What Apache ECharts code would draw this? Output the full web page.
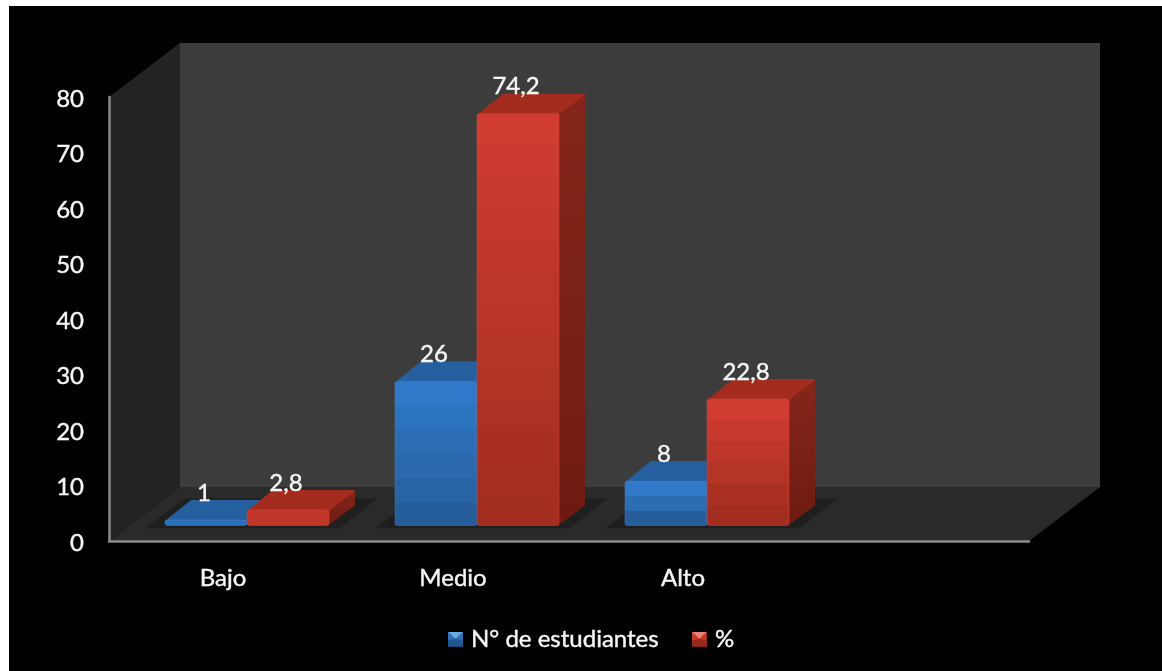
<!DOCTYPE html>
<html><head><meta charset="utf-8">
<script src="https://cdn.jsdelivr.net/npm/echarts@6/dist/echarts.min.js"></script>
<style>html,body{margin:0;padding:0;background:#fff;overflow:hidden}
#c{position:absolute;left:9px;top:6px;width:1153px;height:665px;background:#000;filter:blur(0.5px)}</style>
</head><body><div id="c"></div>
<script>
const categories = ['Bajo', 'Medio', 'Alto', ''];
const estudiantes = [1, 26, 8, null];
const porcentaje = [2.8, 74.2, 22.8, null];
const yTicks = { min: 0, max: 80, interval: 10 };
const seriesNames = ['N° de estudiantes', '%'];

const FONT = 'Lato';
const TEXT = '#f6f6f6';
const wallDepth = { x: 71, y: 54 };
const barDepth = { x: 26, y: 20 };
const floorShift = { x: 22.5, y: 15.5 };
const barWidthRatio = 82 / 230;

const blue = { top: [47,121,200], bottom: [38,94,155], roof: '#255f9e', sideTop: '#20507f', sideBottom: '#1a4168', edge: '#3b86d6' };
const red  = { top: [208,60,48], bottom: [161,46,30], roof: '#a32c1e', sideTop: '#86261a', sideBottom: '#6e1a10', edge: '#dc4639' };

function rgb(a){ return 'rgb(' + a.map(Math.round).join(',') + ')'; }
function bands(pal, h){
  if (h < 20) return rgb(pal.top.map((v, k) => (v * 2 + pal.bottom[k]) / 3));
  const n = Math.round(h / 36) + 2, stops = [];
  for (let i = 0; i < n; i++){
    const t = i / (n - 1);
    const col = rgb(pal.top.map((v, k) => v + (pal.bottom[k] - v) * t));
    stops.push({ offset: i / n, color: col }, { offset: (i + 1) / n, color: col });
  }
  return new echarts.graphic.LinearGradient(0, 0, 0, 1, stops);
}
function barRender(pal, slot){
  return function(params, api){
    const val = api.value(1);
    if (val == null || isNaN(val)) return null;
    const c0 = api.coord([api.value(0), 0]);
    const c1 = api.coord([api.value(0), val]);
    const w = api.size([1, 0])[0] * barWidthRatio;
    const x0 = c0[0] + floorShift.x + (slot === 0 ? -w : 0) + 0.5;
    const x1 = x0 + w;
    const yb = c0[1] - floorShift.y, yt = c1[1] - floorShift.y;
    const h = yb - yt, dx = barDepth.x, dy = barDepth.y;
    return { type: 'group', children: [
      { type: 'polygon', shape: { points: [[x1 - 1, yb], [x1 + dx, yb - dy], [x1 + dx, yt - dy], [x1 - 1, yt]] },
        style: { fill: new echarts.graphic.LinearGradient(0, 0, 0, 1, [{ offset: 0, color: pal.sideTop }, { offset: 1, color: pal.sideBottom }]) } },
      { type: 'polygon', shape: { points: [[x0, yt + 1], [x1, yt + 1], [x1 + dx, yt - dy + 1], [x1 + dx - 2, yt - dy], [x0 + dx, yt - dy]] }, style: { fill: pal.roof } },
      { type: 'rect', shape: { x: x0, y: yt, width: w, height: h, r: 2.5 }, style: { fill: bands(pal, h), stroke: pal.edge, lineWidth: 1, strokeOpacity: 0.45 } },
      { type: 'text', x: (x0 + x1) / 2 - 2, y: yt - dy - 7, style: { text: String(val).replace('.', ','), fill: TEXT, font: '24px ' + FONT, align: 'center', verticalAlign: 'middle', stroke: TEXT, lineWidth: 0.4 } }
    ]};
  };
}
function wallsRender(params, api){
  const g = params.coordSys, d = wallDepth;
  const L = g.x, R = g.x + g.width, T = g.y, B = g.y + g.height;
  return { type: 'group', children: [
    { type: 'rect', shape: { x: L + d.x, y: T - d.y, width: g.width, height: g.height }, style: { fill: '#3c3c3c' } },
    { type: 'polygon', shape: { points: [[L, T], [L + d.x, T - d.y], [L + d.x, B - d.y], [L, B]] }, style: { fill: '#232323' } },
    { type: 'polygon', shape: { points: [[L, B], [L + d.x, B - d.y], [R + d.x, B - d.y], [R, B]] }, style: { fill: '#2a2a2a' } }
  ]};
}
function shadowRender(params, api){
  if (estudiantes[params.dataIndex] == null) return null;
  const c = api.coord([api.value(0), 0]);
  const w = api.size([1, 0])[0] * barWidthRatio;
  const cx = c[0] + floorShift.x, yb = c[1] - floorShift.y;
  return { type: 'polygon', shape: { points: [
    [cx - w - 20, yb + 3], [cx - w + 21, yb - 27], [cx + w + 49, yb - 27], [cx + w + 11, yb + 3]
  ] }, style: { fill: '#1f1f1f' } };
}
function pair(arr){ return categories.map((c, i) => [i, arr[i]]); }
function marker(light, mid, dark){
  const svg = "<svg xmlns='http://www.w3.org/2000/svg' width='15' height='15'>" +
    "<rect width='15' height='15' fill='" + mid + "'/>" +
    "<polygon points='0,0 15,0 7.5,7' fill='" + light + "'/>" +
    "<polygon points='0,15 15,15 15,9 7.5,7 0,9' fill='" + dark + "'/></svg>";
  return 'image://data:image/svg+xml,' + encodeURIComponent(svg);
}
const labelStyle = { color: TEXT, fontSize: 24, fontFamily: FONT, textBorderColor: TEXT, textBorderWidth: 0.4 };

const chart = echarts.init(document.getElementById('c'), null, { renderer: 'canvas' });
chart.setOption({
  animation: false,
  backgroundColor: '#000',
  textStyle: { fontFamily: FONT },
  grid: { left: 100, top: 91, width: 920, height: 444 },
  xAxis: { type: 'category', data: categories, z: 5,
    axisLine: { lineStyle: { color: '#8a8a8a', width: 2.5 } }, axisTick: { show: false },
    axisLabel: Object.assign({ margin: 25, padding: [0, 2, 0, 0] }, labelStyle), splitLine: { show: false } },
  yAxis: { type: 'value', min: yTicks.min, max: yTicks.max, interval: yTicks.interval, z: 5,
    axisLine: { show: true, lineStyle: { color: '#8a8a8a', width: 2.5 } }, axisTick: { show: false },
    axisLabel: Object.assign({ margin: 25, formatter: '{v|{value}}', rich: { v: Object.assign({ padding: [4, 0, 0, 0] }, labelStyle) } }, labelStyle), splitLine: { show: false } },
  legend: { left: 434, top: 616, itemWidth: 15, itemHeight: 15, itemGap: 33,
    textStyle: Object.assign({ padding: [0, 0, 0, 3] }, labelStyle),
    data: [
      { name: seriesNames[0], icon: marker('#6fa8e0', '#2f6db4', '#23568f') },
      { name: seriesNames[1], icon: marker('#e8837a', '#c8392c', '#96281c') }
    ] },
  series: [
    { type: 'custom', name: 'walls', silent: true, z: 1, data: [[0, 0]], encode: { x: 0, y: 1 }, renderItem: wallsRender, clip: false },
    { type: 'custom', name: 'shadow', silent: true, z: 2, data: pair(estudiantes), encode: { x: 0, y: 1 }, renderItem: shadowRender, clip: false },
    { type: 'custom', name: seriesNames[0], z: 3, data: pair(estudiantes), encode: { x: 0, y: 1 }, itemStyle: { color: rgb(blue.top) }, renderItem: barRender(blue, 0), clip: false },
    { type: 'custom', name: seriesNames[1], z: 4, data: pair(porcentaje), encode: { x: 0, y: 1 }, itemStyle: { color: rgb(red.top) }, renderItem: barRender(red, 1), clip: false }
  ]
});
</script></body></html>
